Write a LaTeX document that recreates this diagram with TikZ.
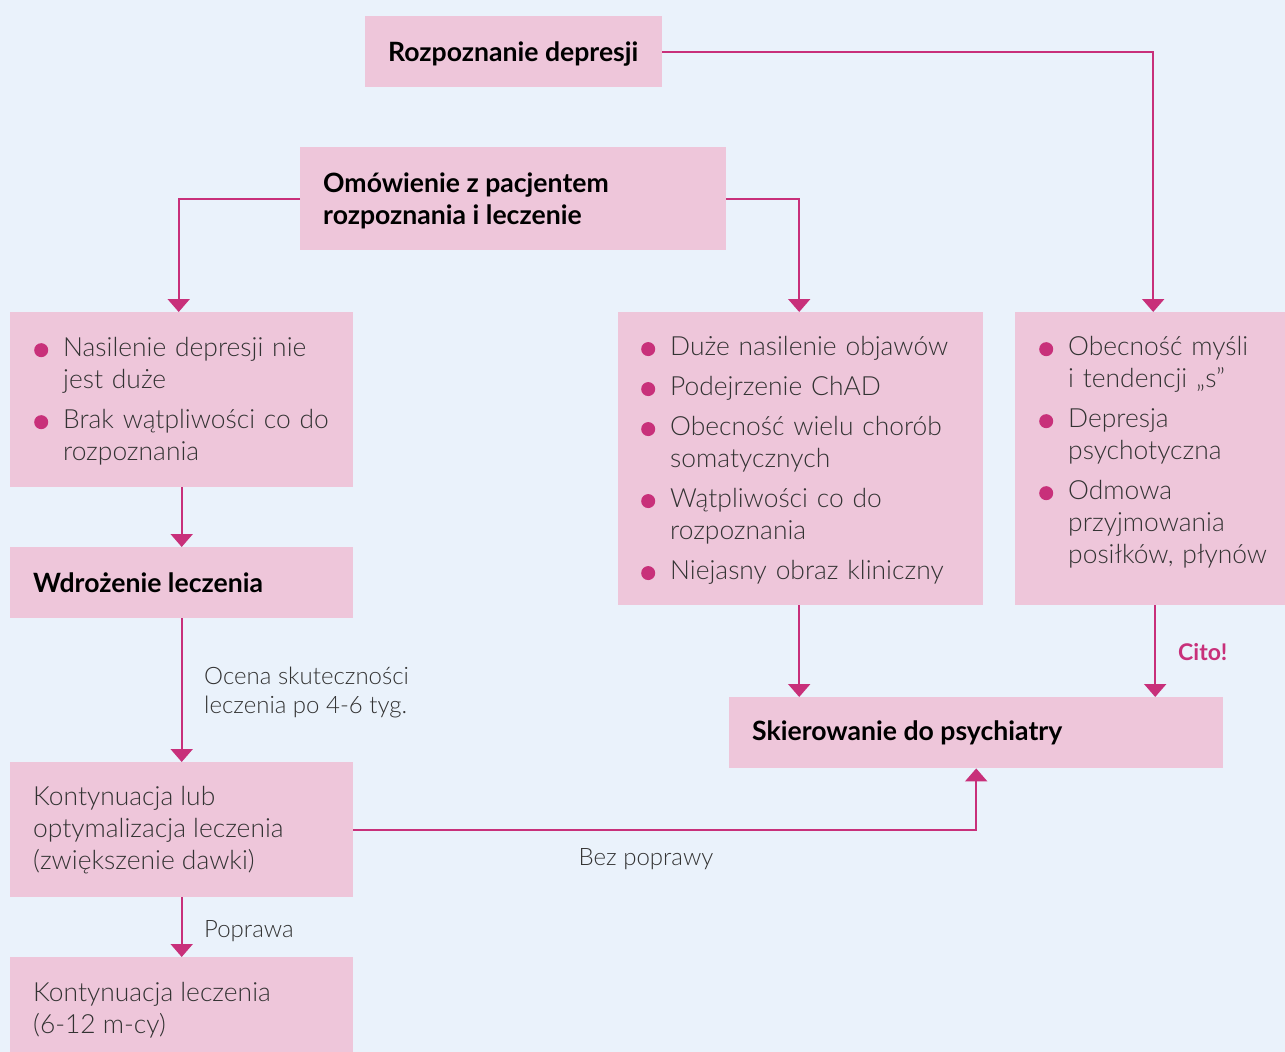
\documentclass[tikz,border=0pt]{standalone}
\usepackage{fontspec}
\setmainfont{Lato}
\newfontfamily\lightfont{Lato Light}
\usetikzlibrary{arrows.meta}
\definecolor{bgc}{RGB}{234,242,251}
\definecolor{boxc}{RGB}{238,198,218}
\definecolor{arrc}{RGB}{200,48,122}
\definecolor{txtc}{RGB}{51,51,51}
\newcommand{\bul}{\makebox[29pt][l]{\tikz[baseline=-6.5pt]\fill[arrc] (7pt,0pt) circle (7pt);}}
\newcommand{\bitem}[1]{\par\noindent\hangindent=29pt\hangafter=1\bul#1\par}
\begin{document}
\begin{tikzpicture}[x=1pt,y=-1pt,
  box/.style={fill=boxc, inner sep=0pt, anchor=north west},
  ttl/.style={anchor=west, inner sep=0pt, font=\fontsize{26.6}{32}\selectfont\bfseries, text=black, align=left},
  body/.style={anchor=west, inner sep=0pt, font=\lightfont\fontsize{26.4}{32}\selectfont, text=txtc, align=left},
  lbl/.style={inner sep=0pt, font=\lightfont\fontsize{24}{29}\selectfont, text=txtc, align=left},
  arr/.style={draw=arrc, line width=2pt, -{Triangle[width=22pt,length=13pt]}}]
\fill[bgc] (0,0) rectangle (1285,1052);
\useasboundingbox (0,0) rectangle (1285,1052);

% boxes
\node[box, minimum width=297pt, minimum height=71pt] (rd) at (365,16) {};
\node[box, minimum width=426pt, minimum height=103pt] (om) at (300,147) {};
\node[box, minimum width=343pt, minimum height=175pt] (L) at (10,312) {};
\node[box, minimum width=365pt, minimum height=293pt] (M) at (618,312) {};
\node[box, minimum width=270pt, minimum height=293pt] (R) at (1015,312) {};
\node[box, minimum width=343pt, minimum height=71pt] (W) at (10,547) {};
\node[box, minimum width=494pt, minimum height=71pt] (S) at (729,697) {};
\node[box, minimum width=343pt, minimum height=135pt] (K1) at (10,762) {};
\node[box, minimum width=343pt, minimum height=95pt] (K2) at (10,957) {};

% texts
\node[ttl] (rdt) at (388,54) {Rozpoznanie depresji};
\node[ttl] (omt) at (323,201) {Omówienie z pacjentem\\rozpoznania i leczenie};
\node[body, text width=305pt] (Lt) at (34,391) {\setlength{\parskip}{8pt}%
\bitem{Nasilenie depresji nie\newline jest duże}
\bitem{Brak wątpliwości co do\newline rozpoznania}};
\node[body, text width=338pt] (Mt) at (641,450) {\setlength{\parskip}{8pt}%
\bitem{Duże nasilenie objawów}
\bitem{Podejrzenie ChAD}
\bitem{Obecność wielu chorób\newline somatycznych}
\bitem{Wątpliwości co do\newline rozpoznania}
\bitem{Niejasny obraz kliniczny}};
\node[body, text width=244pt] (Rt) at (1039,442) {\setlength{\parskip}{8pt}%
\bitem{Obecność myśli\newline i tendencji „s”}
\bitem{Depresja\newline psychotyczna}
\bitem{Odmowa\newline przyjmowania\newline posiłków, płynów}};
\node[ttl] (Wt) at (33,583) {Wdrożenie leczenia};
\node[ttl] (St) at (752,733) {Skierowanie do psychiatry};
\node[body] (K1t) at (33,830) {Kontynuacja lub\\optymalizacja leczenia\\(zwiększenie dawki)};
\node[body] (K2t) at (33,1010) {Kontynuacja leczenia\\(6-12 m-cy)};

% labels
\node[lbl, anchor=west] (ocena) at (204,692) {Ocena skuteczności\\leczenia po 4-6 tyg.};
\node[lbl, anchor=west] (popr) at (204,931) {Poprawa};
\node[lbl] (bez) at (646,859) {Bez poprawy};
\node[lbl, anchor=west, font=\fontsize{23}{29}\selectfont\bfseries, text=arrc] (cito) at (1178,652) {Cito!};

% connectors
\draw[arr] (rd.east) -| ([xshift=3pt]R.north);
\draw[arr] (om.west) -| ([xshift=-3pt]L.north);
\draw[arr] (om.east) -| ([xshift=-1.5pt]M.north);
\draw[arr] (L.south) -- (W.north);
\draw[arr] (W.south) -- (K1.north);
\draw[arr] (K1.south) -- (K2.north);
\draw[arr] ([xshift=-1.5pt]M.south) -- ([xshift=-1.5pt]M.south |- S.north);
\draw[arr] ([xshift=5pt]R.south) -- ([xshift=5pt]R.south |- S.north);
\draw[arr] (K1.east) -| (S.south);
\end{tikzpicture}
\end{document}
